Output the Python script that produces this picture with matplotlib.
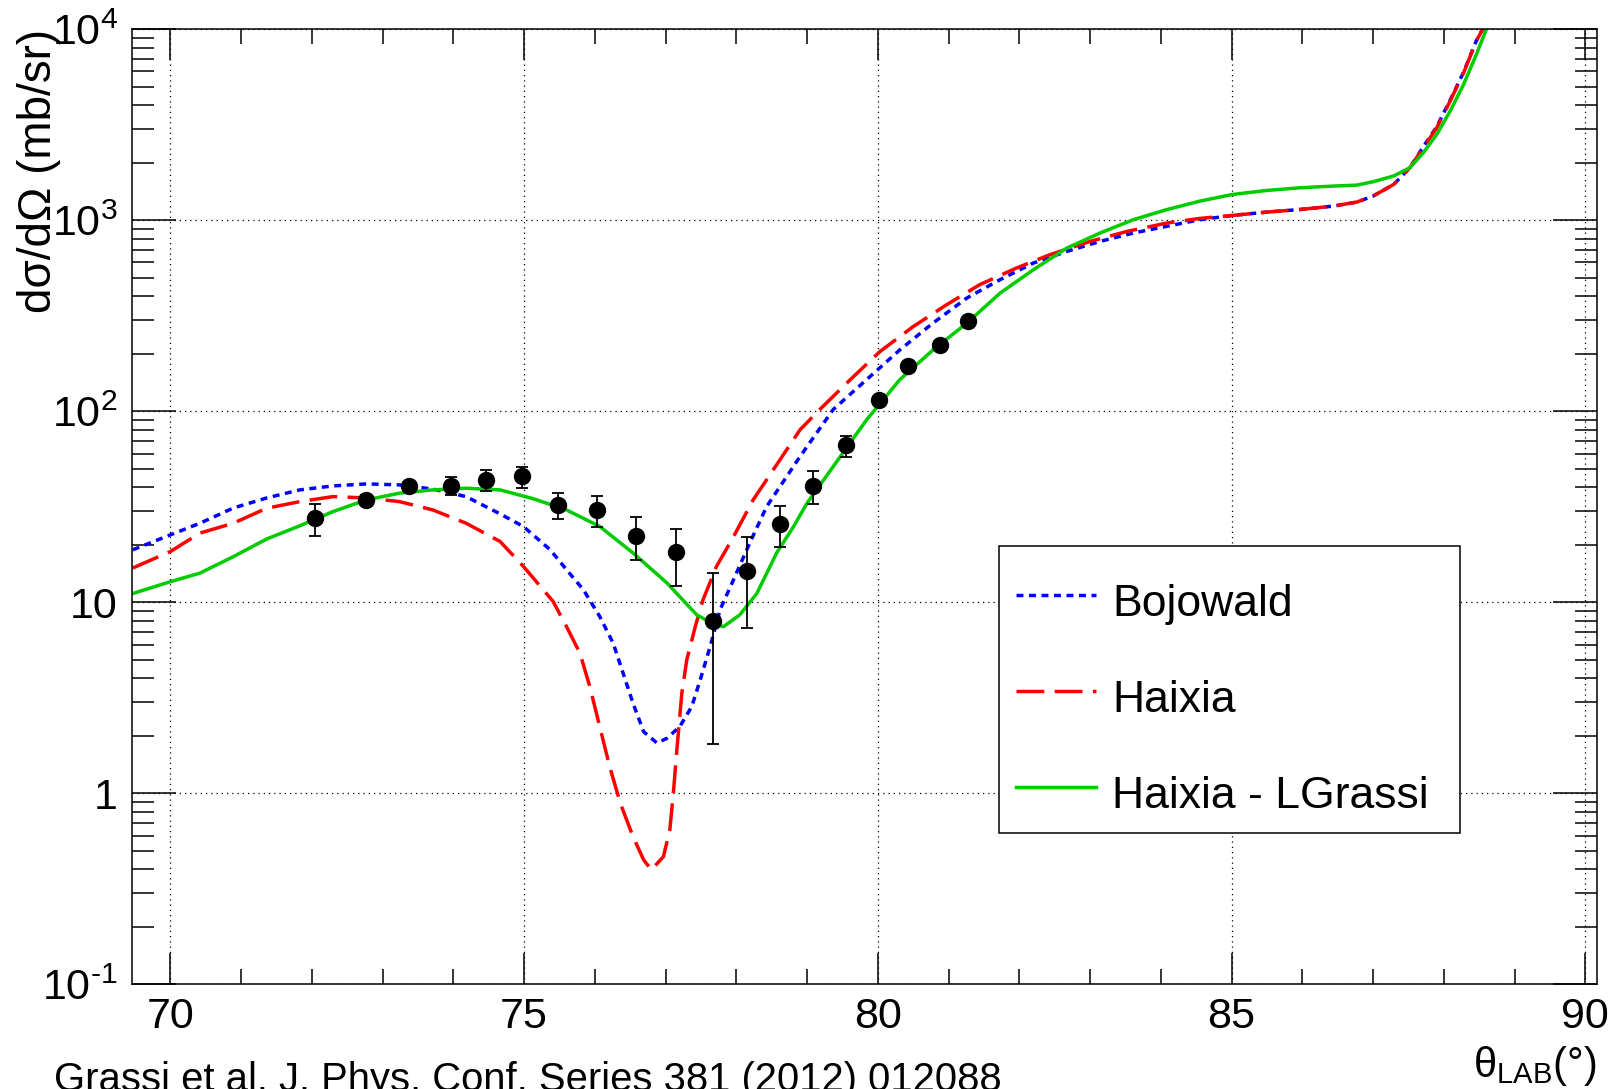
#!/usr/bin/env python3
"""Elastic cross section vs. lab angle: data and three model curves (log scale)."""
from __future__ import annotations

import matplotlib

matplotlib.use("Agg")
import matplotlib.pyplot as plt
from matplotlib.lines import Line2D
from matplotlib.patches import Rectangle
from matplotlib.ticker import FixedLocator, MultipleLocator, NullFormatter

# measured points
theta_data = [72.05, 72.76, 73.38, 73.97, 74.46, 74.97, 75.48, 76.03, 76.58, 77.15,
              77.67, 78.15, 78.62, 79.08, 79.55, 80.02, 80.43, 80.88, 81.28]
sigma_data = [27.5, 34.4, 40.6, 40.6, 43.6, 45.5, 32.3, 30.4, 22.2, 18.2,
              8.01, 14.6, 25.6, 40.6, 66.1, 115, 173, 223, 296]
sigma_err = [5.2, 2.1, 2.0, 4.4, 5.3, 5.7, 5.0, 5.7, 5.6, 6.0,
             6.2, 7.3, 6.2, 7.8, 8.3, 5.0, 7.0, 9.0, 12.0]

# Bojowald
theta_bojowald = [69.47, 70.0, 70.42, 70.89, 71.36, 71.83, 72.30, 72.77, 73.24, 73.71,
                  74.18, 74.66, 74.99, 75.37, 75.60, 75.84, 76.07, 76.26, 76.40, 76.54,
                  76.69, 76.88, 77.02, 77.20, 77.37, 77.49, 77.63, 77.77, 77.96, 78.19,
                  78.43, 78.90, 79.37, 79.84, 80.31, 80.78, 81.26, 81.73, 82.20, 82.67,
                  83.14, 83.61, 84.08, 84.55, 85.01, 85.50, 85.97, 86.44, 86.77, 87.0,
                  87.29, 87.52, 87.71, 87.90, 88.09, 88.28, 88.46, 88.56, 88.70]
sigma_bojowald = [18.8, 22.5, 25.9, 31.1, 35.1, 38.7, 40.6, 41.6, 41.1, 39.1,
                  35.7, 29.0, 24.9, 18.8, 14.8, 11.6, 8.41, 6.10, 4.25, 2.96,
                  2.10, 1.83, 1.94, 2.23, 2.84, 3.92, 5.86, 9.12, 13.1, 20.4,
                  31.7, 57.8, 102, 146, 209, 289, 391, 488, 596, 685,
                  773, 855, 927, 1004, 1057, 1101, 1136, 1183, 1242, 1335,
                  1535, 1878, 2420, 3080, 4250, 5950, 8700, 10160, 14000]

# Haixia
theta_haixia = [69.47, 70.0, 70.42, 70.89, 71.36, 71.83, 72.30, 72.77, 73.24, 73.71,
                74.18, 74.66, 74.99, 75.41, 75.60, 75.79, 75.93, 76.07, 76.21, 76.36,
                76.54, 76.69, 76.80, 76.97, 77.06, 77.11, 77.16, 77.23, 77.30, 77.42,
                77.53, 77.72, 77.96, 78.24, 78.90, 79.18, 79.61, 80.03, 80.50, 80.97,
                81.44, 81.96, 82.43, 83.0, 83.52, 84.08, 84.55, 85.01, 85.50, 85.97,
                86.44, 86.77, 87.0, 87.29, 87.52, 87.71, 87.90, 88.09, 88.28, 88.46,
                88.56, 88.70]
sigma_haixia = [15.1, 18.4, 23.0, 25.9, 31.0, 33.6, 35.7, 35.1, 33.6, 30.4,
                25.9, 20.8, 15.4, 10.1, 7.45, 5.41, 3.61, 2.23, 1.38, 0.888,
                0.593, 0.448, 0.397, 0.466, 0.642, 1.0, 1.69, 3.34, 4.99, 7.45,
                10.3, 15.4, 22.0, 34.4, 79.8, 102, 146, 205, 277, 360,
                459, 561, 658, 773, 872, 964, 1020, 1057, 1101, 1136,
                1183, 1242, 1335, 1535, 1878, 2390, 3040, 4200, 5900, 8650,
                10160, 14000]

# Haixia - LGrassi
theta_lgrassi = [69.47, 70.0, 70.42, 70.89, 71.36, 71.83, 72.30, 72.77, 73.24, 73.71,
                 74.18, 74.66, 75.13, 75.60, 76.07, 76.54, 77.02, 77.44, 77.67, 77.82,
                 78.05, 78.29, 78.57, 78.81, 79.0, 79.37, 79.84, 80.31, 80.78, 81.26,
                 81.73, 82.20, 82.67, 83.14, 83.61, 84.08, 84.55, 85.01, 85.50, 85.97,
                 86.44, 86.77, 87.0, 87.29, 87.52, 87.71, 87.90, 88.09, 88.28, 88.46,
                 88.61, 88.75]
sigma_lgrassi = [11.1, 12.8, 14.2, 17.3, 21.4, 25.1, 29.8, 34.3, 37.2, 38.7,
                 39.5, 38.7, 34.8, 30.4, 24.9, 18.1, 12.6, 8.59, 7.70, 7.45,
                 8.59, 11.1, 18.1, 24.9, 33.0, 51.3, 89.9, 146, 209, 289,
                 415, 550, 713, 855, 1004, 1133, 1256, 1361, 1429, 1476,
                 1506, 1524, 1587, 1700, 1878, 2250, 2806, 3720, 5130, 7360,
                 10160, 14000]

x_major = [70, 75, 80, 85, 90]
y_major = [0.1, 1, 10, 100, 1000, 10000]
y_labels = [r"$10^{\text{-}1}$", "1", "10", "$10^{2}$", "$10^{3}$", "$10^{4}$"]

FIG_W, FIG_H = 1618, 1089
LW = 2.5
STYLES = {
    "Bojowald": dict(color="#0000ff", linestyle=(0, (2.0, 1.6))),
    "Haixia": dict(color="#ff0000", linestyle=(0, (8, 3))),
    "Haixia - LGrassi": dict(color="#00cc00", linestyle="-"),
}


def fx(x: float) -> float:
    return x / FIG_W


def fy(y: float) -> float:
    return 1 - y / FIG_H


def draw_legend(fig: plt.Figure) -> None:
    # ROOT-style box: square frame, short samples, text left-aligned
    fig.add_artist(Rectangle((fx(999), fy(833)), fx(1460 - 999), (833 - 546) / FIG_H,
                             transform=fig.transFigure, facecolor="white", edgecolor="black",
                             linewidth=1.1, zorder=5))
    for label, base in zip(STYLES, [616, 712, 808]):
        fig.add_artist(Line2D([fx(1016), fx(1096)], [fy(base - 21)] * 2, transform=fig.transFigure,
                              linewidth=LW, zorder=6, **STYLES[label]))
        fig.text(fx(1112), fy(base), label, ha="left", va="baseline", fontsize=32, zorder=6)


def main() -> None:
    plt.rcParams.update(
        {
            "font.family": "Liberation Sans",
            "mathtext.fontset": "custom",
            "mathtext.rm": "Liberation Sans",
            "mathtext.it": "Liberation Sans:italic",
            "mathtext.bf": "Liberation Sans:bold",
            "savefig.facecolor": "white",
        }
    )
    fig = plt.figure(figsize=(FIG_W / 100, FIG_H / 100), dpi=100)
    ax = fig.add_axes([fx(132.3), fy(984.3), fx(1597 - 132.3), (984.3 - 29) / FIG_H])

    ax.plot(theta_bojowald, sigma_bojowald, lw=LW, **STYLES["Bojowald"])
    ax.plot(theta_haixia, sigma_haixia, lw=LW, **STYLES["Haixia"])
    ax.plot(theta_lgrassi, sigma_lgrassi, lw=LW, **STYLES["Haixia - LGrassi"])
    ax.errorbar(theta_data, sigma_data, yerr=sigma_err, fmt="o", color="black", ms=11.5,
                elinewidth=1.3, capsize=4.3, capthick=1.3, zorder=5)

    ax.set_yscale("log")
    ax.set_xlim(69.463, 90.165)
    ax.set_ylim(0.1, 1e4)

    ax.xaxis.set_major_locator(FixedLocator(x_major))
    ax.xaxis.set_minor_locator(MultipleLocator(1))
    ax.set_xticklabels([str(v) for v in x_major])
    ax.yaxis.set_major_locator(FixedLocator(y_major))
    ax.set_yticklabels(y_labels)
    ax.yaxis.set_minor_formatter(NullFormatter())

    ax.tick_params(axis="both", which="both", direction="in", top=True, right=True, width=1.1, labelsize=31)
    ax.tick_params(axis="x", which="major", length=22, pad=9)
    ax.tick_params(axis="x", which="minor", length=11)
    ax.tick_params(axis="y", which="major", length=31.5, pad=10.5)
    ax.tick_params(axis="y", which="minor", length=16)
    for spine in ax.spines.values():
        spine.set_linewidth(1.1)

    ax.grid(which="major", color="black", linestyle=(0, (1, 3.2)), linewidth=0.9)

    draw_legend(fig)

    fig.text(fx(39), fy(29), "dσ/dΩ (mb/sr)", rotation=90, ha="center", va="top", fontsize=33)
    fig.text(fx(1597), fy(1077), r"$\mathrm{\theta}_{\mathrm{LAB}}$(°)", ha="right", va="baseline", fontsize=30)
    fig.text(fx(54), fy(1091), "Grassi et al. J. Phys. Conf. Series 381 (2012) 012088",
             ha="left", va="baseline", fontsize=28.8)

    fig.savefig("out.png", dpi=100)


if __name__ == "__main__":
    main()
